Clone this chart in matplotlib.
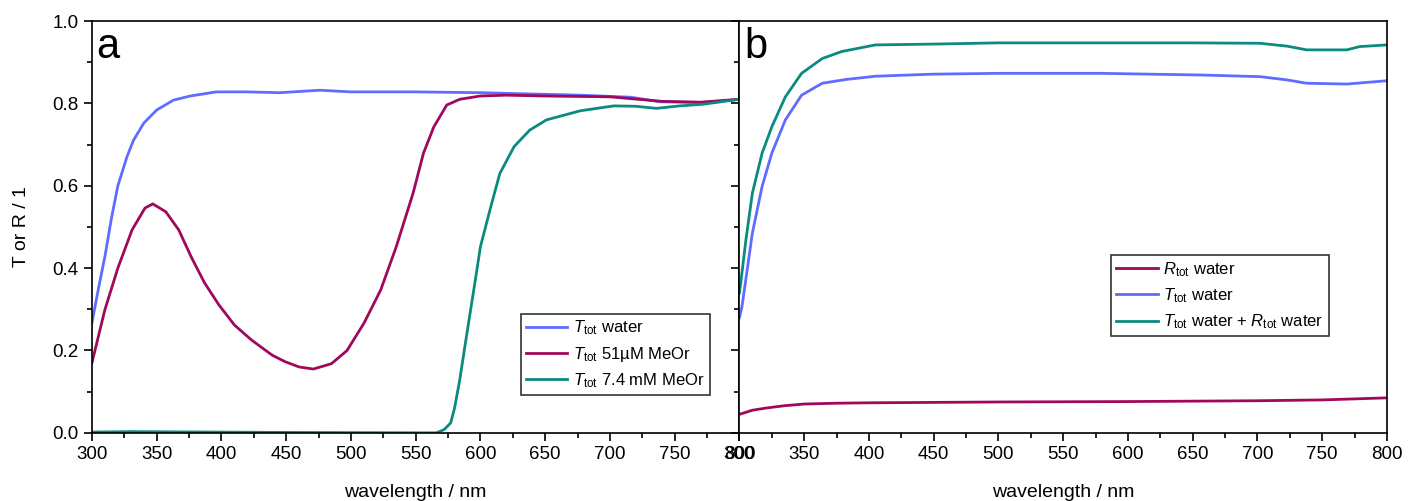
import numpy as np
import matplotlib.pyplot as plt
from matplotlib.ticker import MultipleLocator

plt.rcParams['font.family'] = ['Liberation Sans', 'DejaVu Sans']
plt.rcParams['mathtext.fontset'] = 'custom'
plt.rcParams['mathtext.rm'] = 'Liberation Sans'
plt.rcParams['mathtext.it'] = 'Liberation Sans:italic'

# panel a
wl_a_water = [300, 305, 310, 315, 320, 327, 332, 340, 350, 363, 376, 396, 420, 445, 476, 500, 550, 600, 625, 677, 716, 739, 772, 800]
t_a_water = [0.267, 0.35, 0.428, 0.52, 0.60, 0.67, 0.71, 0.752, 0.784, 0.808, 0.818, 0.828, 0.828, 0.826, 0.832, 0.828, 0.828, 0.826, 0.824, 0.82, 0.815, 0.804, 0.802, 0.81]

wl_a_51 = [300, 310, 320, 331, 341, 347, 357, 367, 377, 387, 398, 410, 423, 439, 449, 460, 471, 485, 497, 510, 523, 535, 548, 556, 564, 574, 584, 600, 620, 650, 700, 740, 770, 800]
t_a_51 = [0.17, 0.299, 0.40, 0.493, 0.546, 0.556, 0.537, 0.493, 0.425, 0.364, 0.311, 0.262, 0.226, 0.189, 0.173, 0.16, 0.155, 0.168, 0.20, 0.266, 0.347, 0.452, 0.582, 0.679, 0.743, 0.796, 0.81, 0.818, 0.82, 0.818, 0.816, 0.805, 0.803, 0.81]

wl_a_74 = [300, 330, 450, 566, 572, 577, 580, 584, 588, 592, 596, 600, 608, 615, 626, 638, 651, 677, 703, 720, 736, 754, 772, 800]
t_a_74 = [0.002, 0.003, 0.001, 0.0, 0.008, 0.024, 0.06, 0.128, 0.21, 0.29, 0.37, 0.452, 0.549, 0.63, 0.695, 0.735, 0.76, 0.782, 0.794, 0.793, 0.788, 0.794, 0.798, 0.81]

# panel b
wl_b_r = [300, 305, 310, 320, 335, 350, 375, 400, 500, 600, 700, 750, 800]
r_b_water = [0.045, 0.05, 0.055, 0.06, 0.066, 0.07, 0.072, 0.073, 0.075, 0.076, 0.078, 0.08, 0.085]

wl_b_t = [300, 302, 310, 317.5, 325, 335.5, 348, 364, 382, 405, 449, 500, 579, 656, 702, 723, 738, 769, 800]
t_b_water = [0.28, 0.307, 0.485, 0.598, 0.679, 0.76, 0.82, 0.849, 0.858, 0.866, 0.871, 0.873, 0.873, 0.869, 0.865, 0.857, 0.849, 0.847, 0.855]

wl_b_tr = [300, 301, 305, 310, 317.5, 325, 335.5, 348, 364, 379, 405, 449, 500, 579, 650, 702, 723, 738, 769, 779, 800]
tr_b_water = [0.34, 0.363, 0.468, 0.582, 0.679, 0.743, 0.816, 0.873, 0.909, 0.926, 0.942, 0.944, 0.947, 0.947, 0.947, 0.946, 0.939, 0.93, 0.93, 0.938, 0.942]

blue = '#5f6cff'
mag = '#a0085c'
teal = '#0b8a80'

fig, (ax1, ax2) = plt.subplots(1, 2, figsize=(14.08, 5.01), dpi=100)
fig.subplots_adjust(left=0.0653, right=0.985, top=0.958, bottom=0.136, wspace=0)

ax1.plot(wl_a_water, t_a_water, color=blue, lw=2, label=r'$T_{\rm tot}$ water')
ax1.plot(wl_a_51, t_a_51, color=mag, lw=2, label=r'$T_{\rm tot}$ 51µM MeOr')
ax1.plot(wl_a_74, t_a_74, color=teal, lw=2, label=r'$T_{\rm tot}$ 7.4 mM MeOr')

ax2.plot(wl_b_r, r_b_water, color=mag, lw=2, label=r'$R_{\rm tot}$ water')
ax2.plot(wl_b_t, t_b_water, color=blue, lw=2, label=r'$T_{\rm tot}$ water')
ax2.plot(wl_b_tr, tr_b_water, color=teal, lw=2, label=r'$T_{\rm tot}$ water + $R_{\rm tot}$ water')

for ax, letter in [(ax1, 'a'), (ax2, 'b')]:
    ax.set_xlim(300, 800)
    ax.set_ylim(0, 1.0)
    ax.xaxis.set_major_locator(MultipleLocator(50))
    ax.xaxis.set_minor_locator(MultipleLocator(25))
    ax.yaxis.set_major_locator(MultipleLocator(0.2))
    ax.yaxis.set_minor_locator(MultipleLocator(0.1))
    ax.tick_params(which='both', direction='out', labelsize=13.5, width=1.2)
    ax.tick_params(which='major', length=6)
    ax.tick_params(which='minor', length=3.5)
    for s in ax.spines.values():
        s.set_linewidth(1.2)
    ax.set_xlabel('wavelength / nm', fontsize=14, labelpad=15)
    ax.text(0.007, 0.985, letter, transform=ax.transAxes, fontsize=30, va='top', ha='left')

ax1.yaxis.set_major_formatter(plt.FormatStrFormatter('%.1f'))
ax1.set_ylabel('T or R / 1', fontsize=14, labelpad=16)
ax2.tick_params(axis='y', labelleft=False)

leg_kw = dict(fontsize=12, frameon=True, fancybox=False, edgecolor='black',
              handlelength=2.5, handletextpad=0.35, borderpad=0.3, labelspacing=0.45,
              borderaxespad=0)
l1 = ax1.legend(loc='lower right', bbox_to_anchor=(0.954, 0.092), **leg_kw)
l2 = ax2.legend(loc='lower right', bbox_to_anchor=(0.910, 0.235), **leg_kw)
for l in (l1, l2):
    l.get_frame().set_linewidth(1.2)

plt.savefig('out.png', dpi=100)
